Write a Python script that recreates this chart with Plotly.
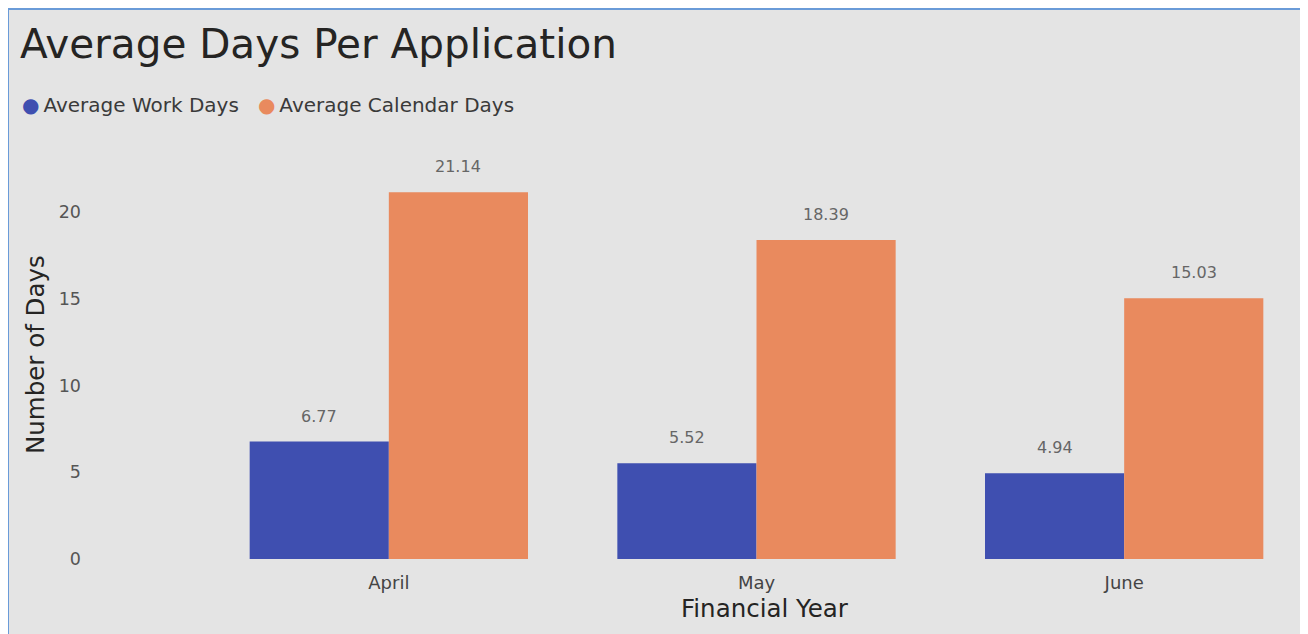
import plotly.graph_objects as go

months = ["April", "May", "June"]
work_days = [6.77, 5.52, 4.94]
calendar_days = [21.14, 18.39, 15.03]
series_names = ["Average Work Days", "Average Calendar Days"]
y_ticks = [0, 5, 10, 15, 20]

BLUE = "#3f4fb0"
ORANGE = "#e98a5e"
BG = "#e4e4e4"
FONT = "DejaVu Sans"

# page body adds 8px margin at top/left
W, H = 1308, 634
L, R, T, B = 197, 8, 152, 83
pw, ph = W - L - R, H - T - B
BARGAP = 0.243

def px(x):
    return (x - L) / pw

def py(y):
    return (H - B - y) / ph

fig = go.Figure()
for name, vals, col in [(series_names[0], work_days, BLUE), (series_names[1], calendar_days, ORANGE)]:
    fig.add_trace(go.Bar(
        x=months, y=vals, name=name, marker=dict(color=col, line=dict(width=0)),
        showlegend=False, hoverinfo="x+y+name",
    ))

bar_w = pw / len(months) * (1 - BARGAP) / 2
annotations = []
for vals, sh in [(work_days, -bar_w / 2), (calendar_days, bar_w / 2)]:
    for m, v in zip(months, vals):
        annotations.append(dict(x=m, y=v, xref="x", yref="y", xshift=sh, yshift=14,
                                yanchor="bottom", xanchor="center", showarrow=False,
                                text=f"{v:.2f}",
                                font=dict(family=FONT, size=16, color="#666666")))

annotations += [
    dict(xref="paper", yref="paper", x=px(12), y=py(97), xanchor="left", yanchor="middle",
         showarrow=False,
         text=f"<span style='color:{BLUE}'>●</span>\u2009{series_names[0]}&nbsp;&nbsp; "
              f"<span style='color:{ORANGE}'>●</span>\u2009{series_names[1]}",
         font=dict(family=FONT, size=20, color="#3a3a3a")),
    dict(xref="paper", yref="paper", x=px(757), y=py(600), xanchor="center", yanchor="middle",
         showarrow=False, text="Financial Year",
         font=dict(family=FONT, size=24.5, color="#252423")),
    dict(xref="paper", yref="paper", x=px(27), y=py(347), xanchor="center", yanchor="middle",
         showarrow=False, text="Number of Days", textangle=-90,
         font=dict(family=FONT, size=24.5, color="#252423")),
]

fig.update_layout(
    width=W, height=H,
    margin=dict(l=L, r=R, t=T, b=B),
    paper_bgcolor=BG, plot_bgcolor=BG,
    barmode="group", bargap=BARGAP, bargroupgap=0,
    font=dict(family=FONT),
    title=dict(text="Average Days Per Application", x=12 / W, xanchor="left",
               y=1 - 36 / H, yanchor="middle",
               font=dict(family=FONT, size=40.5, color="#252423")),
    xaxis=dict(showgrid=False, zeroline=False, showline=False, ticks="",
               tickfont=dict(family=FONT, size=18, color="#444444"),
               ticklabelstandoff=11),
    yaxis=dict(range=[0, 23], tickvals=y_ticks, showgrid=False, zeroline=False,
               showline=False, ticks="",
               tickfont=dict(family=FONT, size=17.5, color="#555555"),
               ticklabelstandoff=123),
    shapes=[
        dict(type="line", xref="paper", yref="paper", x0=px(0), x1=px(W + 5),
             y0=py(1), y1=py(1), line=dict(color="#6a9bd8", width=2), layer="above"),
        dict(type="line", xref="paper", yref="paper", x0=px(0), x1=px(0),
             y0=py(0), y1=py(H + 5), line=dict(color="#6a9bd8", width=2), layer="above"),
    ],
    annotations=annotations,
)

fig.write_html("out.html", post_script="document.body.style.overflow='hidden';")
